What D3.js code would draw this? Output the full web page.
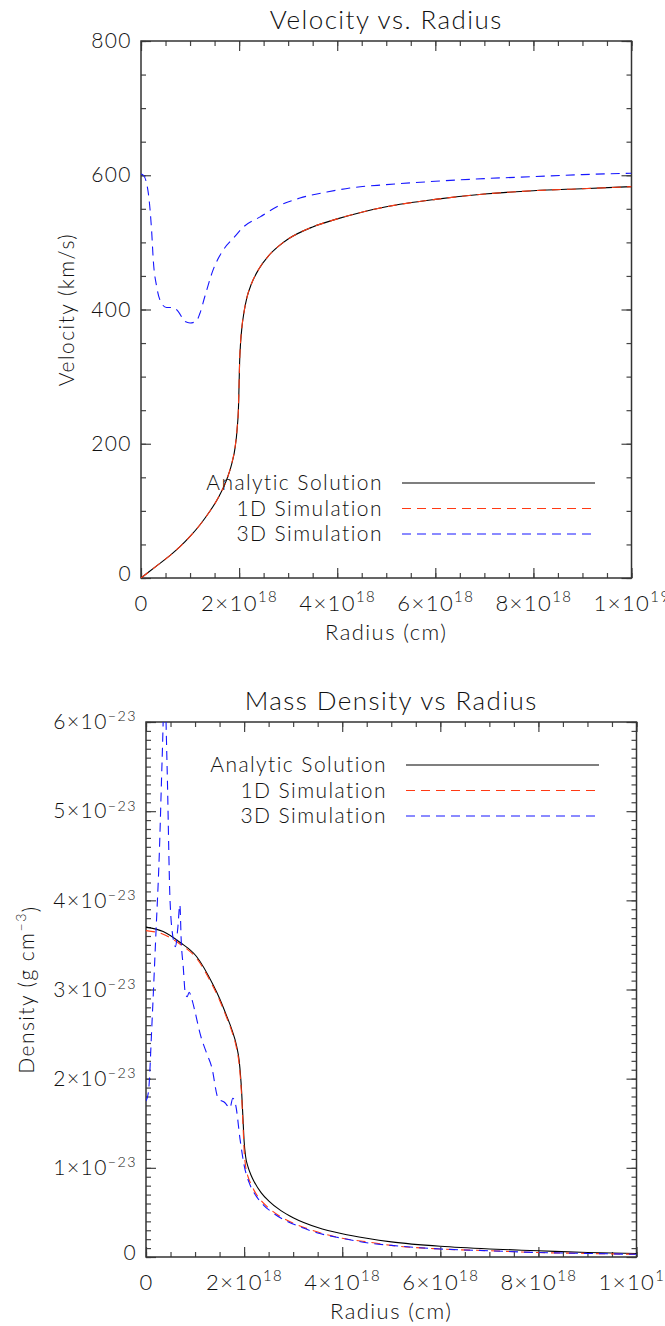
<!DOCTYPE html>
<html>
<head>
<meta charset="utf-8">
<script src="https://cdn.jsdelivr.net/npm/d3@7"></script>
<style>
    body { margin: 0; background: #fff; overflow: hidden; }
    svg { display: block; font-family: Lato, "DejaVu Sans", sans-serif; font-weight: 300; letter-spacing: 0.09em; }
</style>
</head>
<body>
<script>
// radius in units of 1e18 cm
const radiusTicks = [0, 2, 4, 6, 8, 10];

// --- velocity panel (km/s) ---
const velRadius = [0, 0.3, 0.6, 0.8, 1.0, 1.2, 1.4, 1.6, 1.75, 1.85, 1.92, 1.96, 1.99, 2.0, 2.01, 2.03, 2.06, 2.1, 2.16, 2.25, 2.4, 2.6, 2.8, 3.0, 3.5, 4.0, 4.5, 5.0, 6.0, 7.0, 8.0, 9.0, 10.0];
const velAnalytic = [0, 17, 34, 47, 62, 79, 99, 123, 147, 170, 195, 222, 260, 290, 320, 350, 375, 396, 418, 438, 460, 480, 494, 505, 523, 535, 545, 553, 564, 572, 577, 580, 583];
const vel1D = [0, 17, 34, 47, 62, 79, 99, 123, 147, 171, 196, 223, 261, 291, 321, 351, 376, 396, 418, 438, 460, 480, 494, 505, 523, 535, 545, 553, 564, 572, 577, 580, 583];
const vel3DRadius = [0, 0.05, 0.15, 0.22, 0.25, 0.32, 0.42, 0.52, 0.66, 0.76, 0.9, 1.0, 1.12, 1.2, 1.3, 1.47, 1.68, 1.88, 2.09, 2.43, 2.77, 3.24, 3.79, 4.26, 5.0, 6.0, 7.0, 8.0, 9.0, 10.0];
const vel3D = [602, 600, 573, 513, 474, 434, 409, 403, 403, 397, 382, 380, 382, 394, 419, 459, 489, 506, 523, 538, 553, 566, 575, 581, 586, 591, 595, 598, 601, 603];
const velTicks = [0, 200, 400, 600, 800];

// --- density panel (1e-23 g/cm^3) ---
const denRadius = [0, 0.35, 0.69, 1.03, 1.37, 1.5, 1.64, 1.75, 1.85, 1.9, 1.95, 1.98, 2.0, 2.03, 2.08, 2.14, 2.2, 2.35, 2.5, 2.75, 3.0, 3.5, 4.0, 4.5, 5.0, 6.0, 7.0, 8.0, 9.0, 10.0];
const denAnalytic = [3.70, 3.65, 3.53, 3.37, 3.05, 2.90, 2.71, 2.55, 2.36, 2.20, 1.85, 1.52, 1.30, 1.13, 1.01, 0.92, 0.85, 0.72, 0.63, 0.52, 0.44, 0.33, 0.26, 0.21, 0.17, 0.12, 0.09, 0.07, 0.05, 0.04];
const den1D = [3.66, 3.62, 3.51, 3.35, 3.03, 2.88, 2.69, 2.53, 2.33, 2.16, 1.80, 1.45, 1.20, 1.02, 0.90, 0.82, 0.75, 0.63, 0.55, 0.45, 0.38, 0.28, 0.21, 0.17, 0.13, 0.09, 0.07, 0.05, 0.04, 0.03];
const den3DRadius = [0, 0.05, 0.12, 0.2, 0.27, 0.33, 0.38, 0.43, 0.49, 0.56, 0.6, 0.65, 0.69, 0.72, 0.76, 0.8, 0.84, 0.88, 0.93, 1.0, 1.1, 1.24, 1.34, 1.47, 1.61, 1.71, 1.77, 1.83, 1.92, 2.0, 2.12, 2.25, 2.4, 2.6, 2.8, 3.0, 3.5, 4.0, 4.5, 5.0, 6.0, 7.0, 8.0, 9.0, 10.0];
const den3D = [1.75, 1.85, 2.6, 3.6, 4.5, 5.6, 6.4, 5.5, 4.0, 3.55, 3.48, 3.7, 3.95, 3.52, 3.25, 2.96, 2.92, 2.97, 2.9, 2.75, 2.51, 2.28, 2.13, 1.78, 1.73, 1.67, 1.78, 1.70, 1.31, 1.03, 0.81, 0.68, 0.58, 0.49, 0.42, 0.37, 0.27, 0.21, 0.16, 0.13, 0.09, 0.07, 0.05, 0.04, 0.03];
const denTicks = [0, 1, 2, 3, 4, 5, 6];

const legendLabels = ["Analytic Solution", "1D Simulation", "3D Simulation"];
const seriesColors = ["#000000", "#ff3a14", "#1616ff"];

const width = 665, height = 1326;

const svg = d3.select("body").append("svg")
    .attr("width", width)
    .attr("height", height);

function zip(xs, ys) {
    return xs.map(function(x, i) { return {x: x, y: ys[i]}; });
}

function sciLabel(text, mant, exp) {
    text.text(null);
    text.append("tspan").text(mant + "\u00d710");
    text.append("tspan")
        .attr("dy", "-0.55em")
        .attr("font-size", "0.68em")
        .text(exp);
}

function radiusFormat(d) {
    const t = d3.select(this);
    if (d === 0) t.text("0");
    else if (d >= 10) sciLabel(t, d / 10, "19");
    else sciLabel(t, d, "18");
}

function drawPanel(p) {
    const x = d3.scaleLinear().domain([0, 10]).range([p.left, p.right]);
    const y = d3.scaleLinear().domain(p.yDomain).range([p.bottom, p.top]);

    const g = svg.append("g");

    g.append("clipPath").attr("id", p.id)
        .append("rect")
        .attr("x", p.left).attr("y", p.top)
        .attr("width", p.right - p.left).attr("height", p.bottom - p.top);

    // minor + major ticks on all four sides, pointing inward
    const xMinor = d3.range(0, 10.01, 0.5);
    const yMinor = d3.range(p.yDomain[0], p.yDomain[1] + 1e-9, p.yMinorStep);
    const axes = [
        [d3.axisBottom(x), "translate(0," + p.bottom + ")", xMinor, radiusTicks],
        [d3.axisTop(x), "translate(0," + p.top + ")", xMinor, radiusTicks],
        [d3.axisLeft(y), "translate(" + p.left + ",0)", yMinor, p.yTicks],
        [d3.axisRight(y), "translate(" + p.right + ",0)", yMinor, p.yTicks]
    ];
    axes.forEach(function(a) {
        g.append("g").attr("transform", a[1])
            .call(a[0].tickValues(a[2]).tickSize(-5).tickSizeOuter(0).tickFormat(""));
        g.append("g").attr("transform", a[1])
            .call(a[0].tickValues(a[3]).tickSize(-10).tickSizeOuter(0).tickFormat(""));
    });
    g.selectAll(".tick line").attr("stroke", "#444").attr("stroke-width", 1.2);
    g.selectAll(".domain").remove();

    // frame
    g.append("rect")
        .attr("x", p.left).attr("y", p.top)
        .attr("width", p.right - p.left).attr("height", p.bottom - p.top)
        .attr("fill", "none").attr("stroke", "#333").attr("stroke-width", 1.5);

    // tick labels
    g.append("g").attr("transform", "translate(0," + p.bottom + ")")
        .call(d3.axisBottom(x).tickValues(radiusTicks).tickSize(0).tickPadding(17).tickFormat(""))
        .attr("font-family", null)
        .call(function(s) {
            s.select(".domain").remove();
            s.selectAll("text")
                .attr("fill", "#111").attr("font-size", 22)
                .each(radiusFormat);
        });

    g.append("g").attr("transform", "translate(" + p.left + ",0)")
        .call(d3.axisLeft(y).tickValues(p.yTicks).tickSize(0).tickPadding(9).tickFormat(""))
        .attr("font-family", null)
        .call(function(s) {
            s.select(".domain").remove();
            s.selectAll("text")
                .attr("fill", "#111").attr("font-size", 21)
                .attr("dy", function(d) { return d === 0 ? "0.1em" : "0.32em"; })
                .each(p.yFormat);
        });

    // titles
    g.append("text")
        .attr("x", (p.left + p.right) / 2).attr("y", p.top - 12)
        .attr("text-anchor", "middle").attr("font-size", 26)
        .attr("fill", "#111")
        .text(p.title);

    g.append("text")
        .attr("x", (p.left + p.right) / 2).attr("y", p.bottom + 62)
        .attr("text-anchor", "middle").attr("font-size", 22)
        .attr("fill", "#111")
        .text("Radius (cm)");

    const yl = g.append("text")
        .attr("transform", "translate(" + p.yLabelX + "," + ((p.top + p.bottom) / 2) + ") rotate(-90)")
        .attr("text-anchor", "middle").attr("font-size", 21)
        .attr("fill", "#111");
    yl.append("tspan").text(p.yLabel[0]);
    if (p.yLabel.length > 1) {
        yl.append("tspan").attr("dy", "-0.55em").attr("font-size", "0.68em").text(p.yLabel[1]);
        yl.append("tspan").attr("dy", "0.55em").text(p.yLabel[2]);
    }

    // curves
    const line = d3.line()
        .x(function(d) { return x(d.x); })
        .y(function(d) { return y(d.y); })
        .curve(d3.curveMonotoneX);

    const plot = g.append("g").attr("clip-path", "url(#" + p.id + ")");
    p.series.forEach(function(s, i) {
        plot.append("path")
            .datum(s)
            .attr("fill", "none")
            .attr("stroke", seriesColors[i])
            .attr("stroke-width", 1.1)
            .attr("stroke-dasharray", i === 0 ? null : "9,6")
            .attr("d", line);
    });

    // legend
    const leg = g.append("g");
    legendLabels.forEach(function(lab, i) {
        const ly = p.legendY + i * 25.5;
        leg.append("text")
            .attr("x", p.legendX).attr("y", ly + 7)
            .attr("text-anchor", "end").attr("font-size", 21)
            .attr("fill", "#111")
            .text(lab);
        leg.append("line")
            .attr("x1", p.legendX + 19).attr("x2", p.legendX + 212)
            .attr("y1", ly).attr("y2", ly)
            .attr("stroke", seriesColors[i])
            .attr("stroke-width", 1.1)
            .attr("stroke-dasharray", i === 0 ? null : "9,6");
    });
}

drawPanel({
    id: "clipVel",
    left: 141, right: 631.5, top: 41, bottom: 578,
    yDomain: [0, 800], yTicks: velTicks, yMinorStep: 50,
    yFormat: function(d) { d3.select(this).text(d); },
    title: "Velocity vs. Radius",
    yLabel: ["Velocity (km/s)"], yLabelX: 74,
    legendX: 383, legendY: 483,
    series: [zip(velRadius, velAnalytic), zip(velRadius, vel1D), zip(vel3DRadius, vel3D)]
});

drawPanel({
    id: "clipDen",
    left: 146, right: 636.5, top: 722, bottom: 1257,
    yDomain: [0, 6], yTicks: denTicks, yMinorStep: 0.1,
    yFormat: function(d) {
        const t = d3.select(this);
        if (d === 0) t.text("0");
        else sciLabel(t, d, "\u221223");
    },
    title: "Mass Density vs Radius",
    yLabel: ["Density (g cm", "\u22123", ")"], yLabelX: 34,
    legendX: 387, legendY: 765,
    series: [zip(denRadius, denAnalytic), zip(denRadius, den1D), zip(den3DRadius, den3D)]
});
</script>
</body>
</html>
